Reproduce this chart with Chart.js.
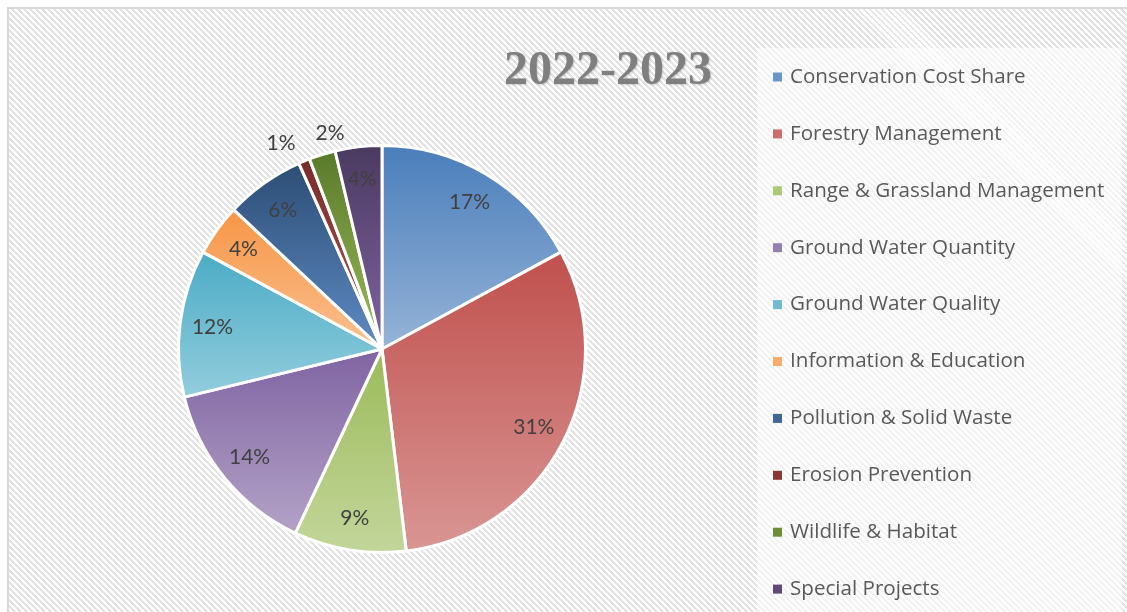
<!DOCTYPE html>
<html><head><meta charset="utf-8">
<script src="https://cdn.jsdelivr.net/npm/chart.js@4"></script>
<style>
html,body{margin:0;padding:0;background:#fff;overflow:hidden;width:1127px;height:612px}
#frame{position:absolute;left:7px;top:7px;width:1200px;height:700px;border-left:2px solid #d9d9d9;border-top:2px solid #d9d9d9;
 background:repeating-linear-gradient(45deg,#e3e3e3 0px,#e3e3e3 2.1px,#ffffff 2.1px,#ffffff 4.24px);}
#legbg{position:absolute;left:757px;top:48px;width:365px;height:600px;background:rgba(255,255,255,0.55)}
canvas{position:absolute;left:0;top:0}
</style></head><body>
<div id="frame"></div><div id="legbg"></div>
<canvas id="c" width="1127" height="612"></canvas>
<script>
const titleText = '2022-2023';
const categories = ['Conservation Cost Share','Forestry Management','Range & Grassland Management','Ground Water Quantity','Ground Water Quality','Information & Education','Pollution & Solid Waste','Erosion Prevention','Wildlife & Habitat','Special Projects'];
const shares = [17.1, 31.0, 8.9, 14.2, 11.7, 4.1, 6.3, 0.9, 2.1, 3.7];
const topColors = ['#4a7ebb','#c0504d','#9bbb59','#8064a2','#4bacc6','#f79646','#2c4d75','#772c2a','#5a7a2c','#4a3a60'];
const bottomColors = ['#95b3d7','#d99694','#c3d69b','#b3a2c7','#93cddd','#fac08f','#5e8bc4','#b55350','#9bbb59','#8064a2'];
const legendColors = ['#6a95c9','#cc6e6b','#adc877','#9481b4','#6fbcd2','#f8ab6a','#3f6596','#8a3835','#6c8f38','#5f4a78'];

const gradientPlugin = {
  id:'sliceGradients',
  beforeDatasetsDraw(chart){
    const ctx = chart.ctx;
    chart.getDatasetMeta(0).data.forEach((arc,i)=>{
      const p = arc.getProps(['x','y','startAngle','endAngle','outerRadius'], true);
      let minY=p.y, maxY=p.y;
      for(let k=0;k<=60;k++){const a=p.startAngle+(p.endAngle-p.startAngle)*k/60; const yy=p.y+p.outerRadius*Math.sin(a); minY=Math.min(minY,yy); maxY=Math.max(maxY,yy);}
      const g=ctx.createLinearGradient(0,minY,0,maxY);
      g.addColorStop(0,topColors[i]); g.addColorStop(1,bottomColors[i]);
      arc.options.backgroundColor=g;
    });
  },
  afterDatasetsDraw(chart){
    const ctx = chart.ctx;
    const total = shares.reduce((a,b)=>a+b,0);
    ctx.save();
    ctx.font = '21px Lato';
    ctx.fillStyle = '#404040';
    ctx.textAlign='center'; ctx.textBaseline='middle';
    const labels = [];
    chart.getDatasetMeta(0).data.forEach((arc,i)=>{
      const p = arc.getProps(['x','y','startAngle','endAngle','outerRadius'], true);
      const pct = Math.round(shares[i]/total*100);
      const mid=(p.startAngle+p.endAngle)/2;
      const outside = pct<3;
      const r = outside ? p.outerRadius*1.11 : p.outerRadius*0.84;
      const t = pct+'%';
      labels.push({t, x:p.x+r*Math.cos(mid), y:p.y+r*Math.sin(mid), w:ctx.measureText(t).width, outside});
    });
    // resolve collisions between neighbouring outside labels
    for(let i=labels.length-1;i>0;i--){
      const a=labels[i-1], b=labels[i];
      if(a.outside && b.outside && Math.abs(b.x-a.x) < (a.w+b.w)/2+10){
        a.x -= a.w/2; a.y += 3; b.x += b.w/2;
      }
    }
    labels.forEach(l=>ctx.fillText(l.t,l.x,l.y));
    ctx.restore();
  },
  afterDraw(chart){
    const ctx = chart.ctx;
    ctx.save();
    ctx.font = 'bold 48px "Liberation Serif"';
    ctx.textAlign='center'; ctx.textBaseline='middle';
    ctx.shadowColor='rgba(0,0,0,0.18)'; ctx.shadowOffsetX=1; ctx.shadowOffsetY=1; ctx.shadowBlur=2;
    ctx.fillStyle='#7f7f7f';
    ctx.fillText(titleText, 608, 72);
    ctx.restore();
    ctx.save();
    ctx.font='20.6px "Open Sans"';
    ctx.textAlign='left'; ctx.textBaseline='middle';
    categories.forEach((c,i)=>{
      const cy = 77 + i*56.9;
      ctx.fillStyle=legendColors[i];
      ctx.fillRect(773, cy-4.5, 9, 9);
      ctx.fillStyle='#595959';
      ctx.fillText(c, 790, cy);
    });
    ctx.restore();
  }
};

new Chart(document.getElementById('c'), {
  type:'pie',
  data:{labels:categories, datasets:[{data:shares, backgroundColor:topColors, borderColor:'#ffffff', borderWidth:3}]},
  options:{
    responsive:false, animation:false,
    layout:{padding:{left:177, top:144, right:540, bottom:58}},
    plugins:{legend:{display:false}, tooltip:{enabled:false}, title:{display:false}}
  },
  plugins:[gradientPlugin]
});
</script>
</body></html>
